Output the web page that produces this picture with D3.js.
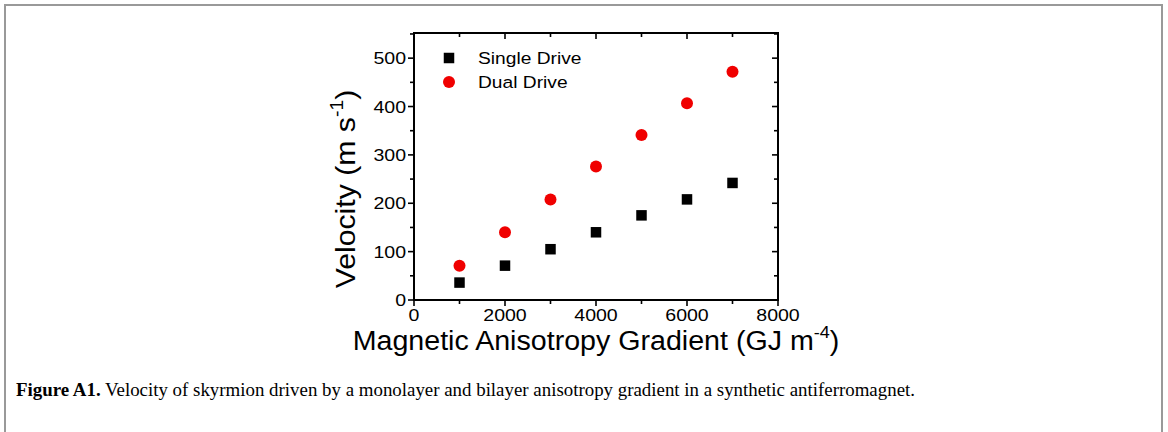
<!DOCTYPE html>
<html>
<head>
<meta charset="utf-8">
<script src="https://cdn.jsdelivr.net/npm/d3@7"></script>
<style>
html,body{margin:0;padding:0;background:#fff;}
svg{display:block;}
</style>
</head>
<body>
<svg id="chart" width="1168" height="432"></svg>
<script>
const gradient = [1000, 2000, 3000, 4000, 5000, 6000, 7000];
const singleDrive = [36, 71, 105, 140, 175, 208, 242];
const dualDrive = [71, 140, 208, 276, 341, 407, 472];
const xTicks = [0, 2000, 4000, 6000, 8000];
const yTicks = [0, 100, 200, 300, 400, 500];
const seriesNames = ["Single Drive", "Dual Drive"];
const seriesColors = ["#000000", "#f00000"];
const captionBold = "Figure A1.";
const captionText = " Velocity of skyrmion driven by a monolayer and bilayer anisotropy gradient in a synthetic antiferromagnet.";

(function () {
const svg = d3.select("#chart");
const W = 1168, H = 432;
// outer frame
svg.append("path")
  .attr("d", `M5,${H+2} L5,5 L1162,5 L1162,${H+2}`)
  .attr("fill", "none").attr("stroke", "#999").attr("stroke-width", 2);

const pl = 414, pr = 778, pt = 33, pb = 300;
const x = d3.scaleLinear().domain([0, 8000]).range([pl, pr]);
const y = d3.scaleLinear().domain([0, 552]).range([pb, pt]);

const font = "'Liberation Sans', Arial, sans-serif";

const xAll = d3.range(0, 8001, 1000);
const yAll = d3.range(0, 551, 50);

const g = svg.append("g");
// bottom outward ticks
g.selectAll(".bt").data(xAll).enter().append("line")
  .attr("x1", d => x(d)).attr("x2", d => x(d))
  .attr("y1", pb).attr("y2", d => pb + (xTicks.includes(d) ? 6 : 4))
  .attr("stroke", "#000").attr("stroke-width", 1.6);
// top inward ticks
g.selectAll(".tt").data(xAll).enter().append("line")
  .attr("x1", d => x(d)).attr("x2", d => x(d))
  .attr("y1", pt).attr("y2", d => pt + (xTicks.includes(d) ? 6 : 4))
  .attr("stroke", "#000").attr("stroke-width", 1.6);
// left outward ticks
g.selectAll(".lt").data(yAll).enter().append("line")
  .attr("y1", d => y(d)).attr("y2", d => y(d))
  .attr("x1", pl).attr("x2", d => pl - (yTicks.includes(d) ? 6 : 4))
  .attr("stroke", "#000").attr("stroke-width", 1.6);
// right inward ticks
g.selectAll(".rt").data(yAll).enter().append("line")
  .attr("y1", d => y(d)).attr("y2", d => y(d))
  .attr("x1", pr).attr("x2", d => pr - (yTicks.includes(d) ? 6 : 4))
  .attr("stroke", "#000").attr("stroke-width", 1.6);

// frame
g.append("rect").attr("x", pl).attr("y", pt)
  .attr("width", pr - pl).attr("height", pb - pt)
  .attr("fill", "none").attr("stroke", "#000").attr("stroke-width", 2);

// tick labels (slightly wide glyphs, as in the reference)
g.selectAll(".xl").data(xTicks).enter().append("text")
  .attr("transform", d => `translate(${x(d)},321) scale(1.15,1)`)
  .attr("text-anchor", "middle").attr("font-family", font).attr("font-size", 17)
  .text(d => d);
g.selectAll(".yl").data(yTicks).enter().append("text")
  .attr("transform", d => `translate(406,${y(d) + 6}) scale(1.15,1)`)
  .attr("text-anchor", "end").attr("font-family", font).attr("font-size", 17)
  .text(d => d);

// axis titles
const xt = g.append("text")
  .attr("transform", `translate(${(pl + pr) / 2},350) scale(1.06,1)`)
  .attr("text-anchor", "middle").attr("font-family", font).attr("font-size", 27);
xt.append("tspan").text("Magnetic Anisotropy Gradient (GJ m");
xt.append("tspan").attr("font-size", 17).attr("dy", -12).text("-4");
xt.append("tspan").attr("dy", 12).text(")");

const yt = g.append("text")
  .attr("transform", `translate(355,189) rotate(-90) scale(1.08,1)`)
  .attr("text-anchor", "middle").attr("font-family", font).attr("font-size", 28);
yt.append("tspan").text("Velocity (m s");
yt.append("tspan").attr("font-size", 18).attr("dy", -12).text("-1");
yt.append("tspan").attr("dy", 12).text(")");

// data
const sq = 10.5;
g.selectAll(".s").data(gradient).enter().append("rect")
  .attr("x", (d) => x(d) - sq / 2)
  .attr("y", (d, i) => y(singleDrive[i]) - sq / 2)
  .attr("width", sq).attr("height", sq).attr("fill", seriesColors[0]);
g.selectAll(".c").data(gradient).enter().append("circle")
  .attr("cx", d => x(d)).attr("cy", (d, i) => y(dualDrive[i]))
  .attr("r", 6).attr("fill", seriesColors[1]);

// legend
const lx = 449, ly = [58, 82];
g.append("rect").attr("x", lx - sq / 2).attr("y", ly[0] - sq / 2).attr("width", sq).attr("height", sq).attr("fill", seriesColors[0]);
g.append("circle").attr("cx", lx).attr("cy", ly[1]).attr("r", 6).attr("fill", seriesColors[1]);
seriesNames.forEach((n, i) => {
  g.append("text").attr("transform", `translate(478,${ly[i] + 6}) scale(1.13,1)`)
    .attr("font-family", font).attr("font-size", 17).text(n);
});

// caption
const cap = svg.append("text").attr("x", 16).attr("y", 396)
  .attr("font-family", "'Liberation Serif', 'DejaVu Serif', serif").attr("font-size", 18.5)
  .attr("textLength", 899).attr("lengthAdjust", "spacingAndGlyphs");
cap.append("tspan").attr("font-weight", "bold").text(captionBold);
cap.append("tspan").text(captionText);
})();
</script>
</body>
</html>
